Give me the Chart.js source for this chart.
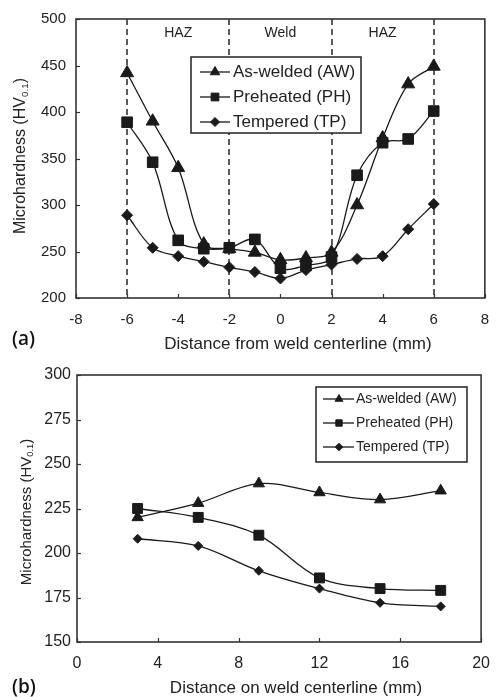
<!DOCTYPE html>
<html><head><meta charset="utf-8">
<script src="https://cdn.jsdelivr.net/npm/chart.js@4.4.1/dist/chart.umd.min.js"></script>
<style>
html,body{margin:0;padding:0;background:#fff;}
#wrap{position:relative;width:502px;height:697px;overflow:hidden;font-family:"Liberation Sans",Arial,sans-serif;color:#222;}
canvas{position:absolute;left:0;}
.t{position:absolute;white-space:nowrap;line-height:1;transform:translate(-50%,-50%);}
.r{transform:translate(-50%,-50%) rotate(-90deg);}
sub{font-size:0.62em;vertical-align:-0.28em;line-height:0;}
.p{position:absolute;font-family:"Open Sans",sans-serif;font-weight:600;font-size:19px;line-height:1;transform:translateY(-50%);color:#111;}
</style></head><body>
<div id="wrap">
<canvas id="c1" width="502" height="355" style="top:0"></canvas>
<canvas id="c2" width="502" height="342" style="top:355px"></canvas>
<div class="t r" style="left:20px;top:156px;font-size:16px">Microhardness (HV<sub>0.1</sub>)</div>
<div class="t" style="left:298px;top:343px;font-size:17px">Distance from weld centerline (mm)</div>
<div class="p" style="left:12px;top:338px">(a)</div>
<div class="t r" style="left:25px;top:512px;font-size:15px">Microhardness (HV<sub>0.1</sub>)</div>
<div class="t" style="left:296px;top:687px;font-size:17px">Distance on weld centerline (mm)</div>
<div class="p" style="left:12px;top:686px">(b)</div>
</div>
<script>
// ---- data: panel (a) ----
const topX  = [-6, -5, -4, -3, -2, -1, 0, 1, 2, 3, 4, 5, 6];
const topAW = [442, 390, 340, 258, 253, 249, 241, 243, 249, 300, 372, 430, 449];
const topPH = [389, 346, 262, 253, 254, 263, 232, 235, 244, 332, 367, 371, 401];
const topTP = [289, 254, 245, 239, 233, 228, 221, 230, 236, 242, 245, 274, 301];
const zoneBounds  = [-6, -2, 2, 6];
const zoneLabels  = ['HAZ', 'Weld', 'HAZ'];
const zoneCenters = [-4, 0, 4];
// ---- data: panel (b) ----
const botX  = [3, 6, 9, 12, 15, 18];
const botAW = [220, 228, 239, 234, 230, 235];
const botPH = [225, 220, 210, 186, 180, 179];
const botTP = [208, 204, 190, 180, 172, 170];
// ---- series labels ----
const seriesLabels = ['As-welded (AW)', 'Preheated (PH)', 'Tempered (TP)'];
const seriesStyles = ['triangle', 'rect', 'rectRot'];

Chart.defaults.font.family = '"Liberation Sans", Arial, sans-serif';
Chart.defaults.color = '#222';

const INK = '#1a1a1a';

function drawMarker(ctx, style, r, x, y) {
  if (Chart.helpers && Chart.helpers.drawPoint) {
    Chart.helpers.drawPoint(ctx, {pointStyle: style, radius: r, rotation: 0, borderWidth: 1}, x, y);
    return;
  }
  ctx.beginPath();
  if (style === 'triangle') {
    ctx.moveTo(x, y - r); ctx.lineTo(x + r * 0.866, y + r / 2); ctx.lineTo(x - r * 0.866, y + r / 2);
  } else if (style === 'rect') {
    const s = r * Math.SQRT1_2; ctx.rect(x - s, y - s, 2 * s, 2 * s);
  } else {
    ctx.moveTo(x, y - r); ctx.lineTo(x + r, y); ctx.lineTo(x, y + r); ctx.lineTo(x - r, y);
  }
  ctx.closePath(); ctx.fill(); ctx.stroke();
}

const decor = {
  id: 'decor',
  beforeDatasetsDraw(chart, args, o) {
    const {ctx, chartArea: a} = chart;
    const x = chart.scales.x;
    ctx.save();
    if (o.bounds) {
      ctx.setLineDash([6, 4]);
      ctx.lineWidth = 1.6;
      ctx.strokeStyle = '#333';
      o.bounds.forEach(v => {
        const px = Math.round(x.getPixelForValue(v));
        ctx.beginPath(); ctx.moveTo(px, a.top); ctx.lineTo(px, a.bottom); ctx.stroke();
      });
      ctx.setLineDash([]);
    }
    if (o.zones) {
      ctx.font = '14px "Liberation Sans", Arial, sans-serif';
      ctx.fillStyle = '#222';
      ctx.textAlign = 'center';
      ctx.textBaseline = 'middle';
      o.zones.forEach((lab, i) => ctx.fillText(lab, x.getPixelForValue(o.zoneCenters[i]), a.top + 14));
    }
    ctx.restore();
  },
  afterDraw(chart, args, o) {
    const {ctx, chartArea: a} = chart;
    const x = chart.scales.x, y = chart.scales.y;
    ctx.save();
    // inner ticks
    ctx.strokeStyle = '#333';
    ctx.lineWidth = 1.2;
    x.ticks.forEach(t => {
      const px = Math.round(x.getPixelForValue(t.value)) + 0.5;
      ctx.beginPath(); ctx.moveTo(px, a.bottom); ctx.lineTo(px, a.bottom - 4); ctx.stroke();
    });
    y.ticks.forEach(t => {
      const py = Math.round(y.getPixelForValue(t.value)) + 0.5;
      ctx.beginPath(); ctx.moveTo(a.left, py); ctx.lineTo(a.left + 4, py); ctx.stroke();
    });
    // frame
    ctx.lineWidth = 1.6;
    ctx.strokeStyle = '#333';
    ctx.strokeRect(a.left, a.top, a.right - a.left, a.bottom - a.top);
    // legend
    const L = o.legend;
    if (L) {
      ctx.fillStyle = '#fff';
      ctx.fillRect(L.x, L.y, L.w, L.h);
      ctx.lineWidth = 1.5;
      ctx.strokeStyle = '#222';
      ctx.strokeRect(L.x, L.y, L.w, L.h);
      chart.data.datasets.forEach((ds, i) => {
        const cy = L.y + L.first + i * L.rowH;
        ctx.beginPath();
        ctx.moveTo(L.x + L.lx0, cy); ctx.lineTo(L.x + L.lx1, cy);
        ctx.lineWidth = 1.3; ctx.strokeStyle = INK; ctx.stroke();
        ctx.fillStyle = INK; ctx.strokeStyle = INK; ctx.lineWidth = 1;
        drawMarker(ctx, ds.pointStyle, L.r[i], L.x + L.mx, cy);
        ctx.fillStyle = '#222';
        ctx.font = L.font;
        ctx.textAlign = 'left';
        ctx.textBaseline = 'middle';
        ctx.fillText(ds.label, L.x + L.tx, cy);
      });
    }
    ctx.restore();
  }
};

function mkDatasets(xs, series, radii) {
  return series.map((vals, i) => ({
    label: seriesLabels[i],
    data: xs.map((xv, j) => ({x: xv, y: vals[j]})),
    borderColor: INK,
    borderWidth: 1.3,
    pointStyle: seriesStyles[i],
    pointRadius: radii[i],
    pointBackgroundColor: INK,
    pointBorderColor: INK,
    pointBorderWidth: 1,
    tension: 0.35,
    fill: false
  }));
}

function axis(min, max, step, pad, size, fit) {
  return {
    type: 'linear', min: min, max: max,
    ticks: {stepSize: step, padding: pad, color: '#222', font: {size: size}},
    grid: {display: false, drawTicks: false},
    border: {display: false},
    afterFit: fit
  };
}

new Chart(document.getElementById('c1'), {
  type: 'line',
  data: {datasets: mkDatasets(topX, [topAW, topPH, topTP], [7.5, 7.5, 5.5])},
  options: {
    responsive: false, animation: false, events: [],
    layout: {padding: {left: 0, right: 10, top: 15, bottom: 0}},
    scales: {
      x: axis(-8, 8, 2, 13, 15, s => { s.height = 57; }),
      y: axis(200, 500, 50, 10, 15, s => { s.width = 76; })
    },
    plugins: {
      legend: {display: false}, tooltip: {enabled: false},
      decor: {
        bounds: zoneBounds, zones: zoneLabels, zoneCenters: zoneCenters,
        legend: {x: 191, y: 57, w: 170, h: 76, first: 15, rowH: 25, lx0: 9, lx1: 39, mx: 24, tx: 42,
                 r: [5.5, 5.5, 4.5], font: '17px "Liberation Sans", Arial, sans-serif'}
      }
    }
  },
  plugins: [decor]
});

new Chart(document.getElementById('c2'), {
  type: 'line',
  data: {datasets: mkDatasets(botX, [botAW, botPH, botTP], [6.5, 7, 4.5])},
  options: {
    responsive: false, animation: false, events: [],
    layout: {padding: {left: 0, right: 12, top: 20, bottom: 0}},
    scales: {
      x: axis(0, 20, 4, 12, 16, s => { s.height = 55; }),
      y: axis(150, 300, 25, 6, 16, s => { s.width = 77; })
    },
    plugins: {
      legend: {display: false}, tooltip: {enabled: false},
      decor: {
        legend: {x: 316, y: 32, w: 151, h: 75, first: 12, rowH: 24, lx0: 7, lx1: 38, mx: 23, tx: 40,
                 r: [4.5, 4.5, 3.8], font: '14px "Liberation Sans", Arial, sans-serif'}
      }
    }
  },
  plugins: [decor]
});
</script>
</body></html>
